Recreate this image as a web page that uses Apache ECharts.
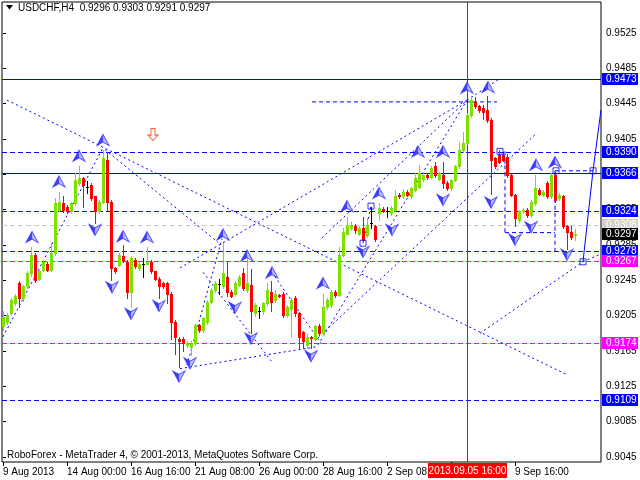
<!DOCTYPE html>
<html><head><meta charset="utf-8">
<script src="https://cdn.jsdelivr.net/npm/echarts@6/dist/echarts.min.js"></script>
<style>html,body{margin:0;padding:0;background:#fff}#c{width:640px;height:480px}</style>
</head><body><div id="c"></div>
<script>
const symbolName = 'USDCHF,H4';
const opens  = [0.9193,0.9198,0.9208,0.9219,0.9242,0.9225,0.9238,0.9253,0.9274,0.9247,0.9257,0.9264,0.9257,0.9276,0.9325,0.9332,0.9328,0.9323,0.9332,0.9355,0.9361,0.9351,0.9353,0.9340,0.9323,0.9334,0.9381,0.9334,0.9259,0.9262,0.9272,0.9266,0.9232,0.9268,0.9259,0.9264,0.9264,0.9266,0.9255,0.9247,0.9242,0.9242,0.9230,0.9198,0.9179,0.9179,0.9172,0.9170,0.9174,0.9194,0.9189,0.9198,0.9221,0.9234,0.9241,0.9238,0.9249,0.9232,0.9230,0.9240,0.9253,0.9234,0.9240,0.9208,0.9210,0.9210,0.9219,0.9232,0.9223,0.9228,0.9230,0.9206,0.9213,0.9225,0.9208,0.9186,0.9172,0.9181,0.9179,0.9193,0.9185,0.9215,0.9217,0.9232,0.9228,0.9274,0.9298,0.9304,0.9306,0.9298,0.9304,0.9296,0.9310,0.9306,0.9321,0.9326,0.9323,0.9321,0.9325,0.9342,0.9340,0.9345,0.9340,0.9347,0.9351,0.9360,0.9364,0.9362,0.9374,0.9360,0.9364,0.9355,0.9349,0.9359,0.9374,0.9393,0.9400,0.9432,0.9447,0.9442,0.9440,0.9438,0.9427,0.9383,0.9387,0.9387,0.9385,0.9364,0.9342,0.9313,0.9323,0.9325,0.9319,0.9332,0.9347,0.9342,0.9355,0.9340,0.9364,0.9338,0.9340,0.9306,0.9300,0.9296];
const highs  = [0.9210,0.9208,0.9225,0.9230,0.9244,0.9240,0.9255,0.9283,0.9276,0.9257,0.9268,0.9266,0.9287,0.9338,0.9345,0.9340,0.9330,0.9334,0.9366,0.9374,0.9362,0.9357,0.9355,0.9341,0.9336,0.9393,0.9390,0.9336,0.9260,0.9276,0.9285,0.9268,0.9272,0.9270,0.9266,0.9270,0.9283,0.9268,0.9256,0.9249,0.9243,0.9243,0.9232,0.9200,0.9181,0.9181,0.9176,0.9176,0.9196,0.9196,0.9204,0.9223,0.9236,0.9244,0.9247,0.9287,0.9266,0.9234,0.9244,0.9251,0.9259,0.9272,0.9258,0.9219,0.9215,0.9221,0.9242,0.9244,0.9234,0.9230,0.9232,0.9217,0.9225,0.9227,0.9209,0.9188,0.9184,0.9182,0.9194,0.9196,0.9230,0.9225,0.9234,0.9234,0.9283,0.9304,0.9317,0.9311,0.9309,0.9306,0.9317,0.9315,0.9328,0.9308,0.9332,0.9328,0.9328,0.9329,0.9347,0.9344,0.9348,0.9347,0.9351,0.9366,0.9376,0.9366,0.9366,0.9374,0.9379,0.9368,0.9379,0.9357,0.9360,0.9376,0.9402,0.9413,0.9434,0.9454,0.9453,0.9443,0.9444,0.9454,0.9429,0.9385,0.9393,0.9390,0.9388,0.9366,0.9343,0.9325,0.9327,0.9327,0.9336,0.9364,0.9349,0.9347,0.9357,0.9366,0.9368,0.9344,0.9342,0.9308,0.9306,0.9303];
const lows   = [0.9189,0.9196,0.9206,0.9217,0.9215,0.9222,0.9236,0.9250,0.9243,0.9245,0.9255,0.9255,0.9255,0.9274,0.9323,0.9322,0.9321,0.9321,0.9330,0.9353,0.9328,0.9344,0.9336,0.9310,0.9321,0.9332,0.9325,0.9245,0.9253,0.9261,0.9266,0.9225,0.9215,0.9259,0.9257,0.9249,0.9263,0.9253,0.9245,0.9225,0.9236,0.9219,0.9178,0.9162,0.9147,0.9165,0.9170,0.9161,0.9172,0.9187,0.9187,0.9196,0.9219,0.9232,0.9230,0.9236,0.9227,0.9226,0.9228,0.9238,0.9234,0.9232,0.9185,0.9205,0.9202,0.9207,0.9217,0.9210,0.9221,0.9226,0.9204,0.9204,0.9181,0.9205,0.9168,0.9168,0.9168,0.9168,0.9177,0.9183,0.9183,0.9213,0.9215,0.9226,0.9227,0.9272,0.9297,0.9302,0.9299,0.9296,0.9289,0.9294,0.9304,0.9290,0.9313,0.9322,0.9317,0.9319,0.9323,0.9338,0.9338,0.9340,0.9338,0.9346,0.9349,0.9358,0.9360,0.9361,0.9362,0.9359,0.9349,0.9347,0.9347,0.9357,0.9372,0.9390,0.9399,0.9430,0.9440,0.9436,0.9428,0.9424,0.9343,0.9372,0.9378,0.9380,0.9362,0.9340,0.9306,0.9311,0.9321,0.9317,0.9317,0.9330,0.9342,0.9340,0.9338,0.9338,0.9334,0.9336,0.9304,0.9281,0.9292,0.9291];
const closes = [0.9204,0.9206,0.9223,0.9227,0.9225,0.9238,0.9253,0.9274,0.9245,0.9255,0.9266,0.9257,0.9276,0.9332,0.9334,0.9325,0.9323,0.9332,0.9359,0.9361,0.9353,0.9351,0.9338,0.9323,0.9334,0.9383,0.9334,0.9259,0.9255,0.9274,0.9268,0.9232,0.9270,0.9261,0.9264,0.9264,0.9266,0.9255,0.9247,0.9238,0.9238,0.9230,0.9198,0.9181,0.9176,0.9174,0.9174,0.9174,0.9194,0.9189,0.9202,0.9221,0.9234,0.9242,0.9241,0.9253,0.9232,0.9227,0.9242,0.9249,0.9236,0.9242,0.9210,0.9217,0.9210,0.9219,0.9234,0.9221,0.9230,0.9227,0.9206,0.9215,0.9223,0.9208,0.9181,0.9176,0.9181,0.9180,0.9193,0.9185,0.9215,0.9223,0.9232,0.9228,0.9274,0.9300,0.9308,0.9308,0.9302,0.9304,0.9291,0.9308,0.9310,0.9292,0.9327,0.9324,0.9323,0.9327,0.9340,0.9340,0.9345,0.9342,0.9349,0.9361,0.9366,0.9364,0.9362,0.9372,0.9364,0.9366,0.9355,0.9349,0.9359,0.9374,0.9393,0.9400,0.9432,0.9449,0.9442,0.9438,0.9436,0.9427,0.9381,0.9374,0.9379,0.9381,0.9364,0.9342,0.9315,0.9323,0.9325,0.9319,0.9334,0.9349,0.9343,0.9345,0.9340,0.9364,0.9336,0.9342,0.9306,0.9300,0.9294,0.9297];

const timeTickIndex  = [0,16,32,48,64,80,96,112,128];
const timeTickLabels = ['9 Aug 2013','14 Aug 00:00','16 Aug 16:00','21 Aug 08:00','26 Aug 00:00','28 Aug 16:00','2 Sep 08:00','5 Sep 00:00','9 Sep 16:00'];
const priceTicks = [0.9045,0.9085,0.9125,0.9165,0.9205,0.9245,0.9285,0.9325,0.9365,0.9405,0.9445,0.9485,0.9525];

const blueSolidLevels  = [0.9473, 0.9366];
const blueDashedLevels = [0.9390, 0.9324, 0.9278, 0.9109];
const magentaLevels    = [0.9267, 0.9174];
const grayLevels       = [0.9308];
const markedBarIndex   = 116;
const markedBarLabel   = '2013.09.05 16:00';

// trend lines: [bar1, price1, bar2, price2]
const dottedLines = [
  [1,0.9449,141,0.9138],
  [0,0.9181,25,0.9395],
  [25.5,0.9393,53.75,0.9288],
  [44.25,0.9259,116,0.9449],
  [44.25,0.9145,78.75,0.9170],
  [46,0.9149,54.75,0.9292],
  [50,0.9254,67.5,0.9151],
  [67.25,0.9254,79.75,0.9172],
  [78.75,0.9172,116,0.9449],
  [79.75,0.9293,116,0.9449],
  [78.75,0.9180,133.5,0.9412],
  [119.25,0.9185,145,0.9266],
  [145,0.9266,149.5,0.9275],
  [116,0.9449,123.75,0.9472],
  [90,0.9287,92,0.9329]
];
const dashedLines = [
  [125.5,0.9391,125.5,0.9299],
  [125.5,0.9299,138,0.9299],
  [138,0.9369,138,0.9276],
  [138,0.9369,147.5,0.9369],
  [77.25,0.9447,123.5,0.9447]
];
const forecastPath = [[145,0.9266],[147.5,0.9369],[149.5,0.9438]];

const upArrows = [[7.25,0.9294],[14,0.9357],[19,0.9386],[25,0.9404],[30,0.9295],[36,0.9294],[55,0.9297],[61,0.9273],[67.25,0.9254],[80,0.9242],[86,0.9329],[94,0.9344],[103.75,0.9391],[110,0.9391],[116,0.9463],[121.25,0.9464],[133.25,0.9376],[138,0.9379]];
const downArrows = [[-0.5,0.9180],[23,0.9302],[27.25,0.9237],[32,0.9207],[39,0.9216],[44,0.9136],[46.75,0.9151],[58,0.9214],[62,0.9179],[77,0.9159],[90,0.9277],[97.25,0.9302],[110,0.9336],[122,0.9333],[128,0.9291],[132,0.9305],[141,0.9274]];
const squares = [[90,0.9287],[92,0.9329],[124.25,0.9391],[138.25,0.9369],[145,0.9266],[147.5,0.9369]];
const signalArrow = [[37.5,0.9410]];

const FONT = "'Liberation Sans',Arial,sans-serif";
const FS = 10;
const candles = opens.map((o,i)=>[i,o,highs[i],lows[i],closes[i]]);
const last = candles.length-1;

function levelRender(lineColor, dash, boxColor, showLine){
  return function(params, api){
    const cs = params.coordSys;
    const p = api.value(1);
    const yi = Math.round(api.coord([0,p])[1]);
    const right = cs.x + cs.width;
    const kids = [];
    if(showLine){
      if(dash){
        kids.push({type:'line',shape:{x1:cs.x,y1:yi+0.5,x2:right,y2:yi+0.5},style:{stroke:lineColor,lineWidth:1,lineDash:dash}});
      } else {
        kids.push({type:'rect',shape:{x:cs.x,y:yi,width:cs.width,height:1},style:{fill:lineColor}});
      }
    }
    kids.push({type:'rect',shape:{x:right+1,y:yi-6,width:36,height:12},style:{fill:boxColor}});
    kids.push({type:'text',x:right+5,y:yi+0.5,style:{text:p.toFixed(4),fill:'#fff',font:FS+'px '+FONT,verticalAlign:'middle',align:'left'}});
    return {type:'group',children:kids};
  };
}
function segRender(dash){
  return function(params, api){
    const a = api.coord([api.value(0),api.value(1)]);
    const b = api.coord([api.value(2),api.value(3)]);
    return {type:'line',shape:{x1:a[0],y1:a[1],x2:b[0],y2:b[1]},
      style:{stroke:'#0000ff',lineWidth:1,lineDash:dash,fill:null}};
  };
}
const lv = arr => arr.map(p=>[0,p]);
const arrowFill = new echarts.graphic.LinearGradient(0,0,1,0,[
  {offset:0,color:'#0000d0'},{offset:0.5,color:'#1818ff'},{offset:0.5,color:'#9c9cff'},{offset:1,color:'#d8d8ff'}]);

const chart = echarts.init(document.getElementById('c'),null,{renderer:'canvas'});
chart.setOption({
  animation:false,
  backgroundColor:'#fff',
  grid:{left:2,right:39,top:2,bottom:18,show:true,borderColor:'#000',borderWidth:1,backgroundColor:'#fff'},
  xAxis:{type:'value',min:-0.25,max:149.5,
    axisLine:{show:false},
    axisTick:{show:true,customValues:timeTickIndex,length:4,lineStyle:{color:'#000'}},
    axisLabel:{show:true,customValues:timeTickIndex,align:'left',margin:5,color:'#000',fontFamily:FONT,fontSize:FS,
      formatter:v=>timeTickLabels[timeTickIndex.indexOf(Math.round(v))]||''},
    splitLine:{show:false}},
  yAxis:{type:'value',position:'right',min:0.90393,max:0.95601,scale:true,
    axisLine:{show:false},
    axisTick:{show:true,customValues:priceTicks,length:3,lineStyle:{color:'#000'}},
    axisLabel:{show:true,customValues:priceTicks,margin:5,color:'#000',fontFamily:FONT,fontSize:FS,
      formatter:v=>v.toFixed(4)},
    splitLine:{show:false}},
  graphic:[
    {type:'polygon',shape:{points:[[6,5],[13,5],[9.5,9.5]]},style:{fill:'#000'}},
    {type:'text',left:18,top:3,style:{text:symbolName+'  '+[opens[last],highs[last],lows[last],closes[last]].map(v=>v.toFixed(4)).join(' '),
      font:FS+"px "+FONT,fill:'#000'}},
    {type:'text',left:7,top:450,style:{text:'RoboForex - MetaTrader 4, \u00a9 2001-2013, MetaQuotes Software Corp.',font:FS+"px "+FONT,fill:'#000'}}
  ],
  series:[
    {type:'custom',data:lv(grayLevels),clip:false,encode:{x:0,y:1},z:2,silent:true,renderItem:levelRender('#c8c8c8',[5,3],'#d0d0d0',true)},
    {type:'custom',data:lv(blueSolidLevels),clip:false,encode:{x:0,y:1},z:2,silent:true,renderItem:levelRender('#0000ff',null,'#0000ff',true)},
    {type:'custom',data:lv(blueDashedLevels),clip:false,encode:{x:0,y:1},z:2,silent:true,renderItem:levelRender('#0000ff',[5,3],'#0000ff',true)},
    {type:'custom',data:lv(magentaLevels),clip:false,encode:{x:0,y:1},z:2,silent:true,renderItem:levelRender('#ff00ff',[5,3],'#ff00ff',true)},
    {type:'custom',data:[[0,closes[last]]],clip:false,encode:{x:0,y:1},z:2,silent:true,renderItem:levelRender('#000',null,'#000',false)},
    {type:'custom',data:[[markedBarIndex,0.93]],clip:false,encode:{x:0,y:1},z:2,silent:true,
      renderItem:function(params,api){
        const cs=params.coordSys; const x=Math.round(api.coord([api.value(0),0.93])[0]);
        const bottom=cs.y+cs.height;
        return {type:'group',children:[
          {type:'rect',shape:{x:x,y:cs.y,width:1,height:cs.height},style:{fill:'#ff0000'}},
          {type:'rect',shape:{x:x-39,y:bottom+1,width:79,height:15},style:{fill:'#ff0000'}},
          {type:'text',x:x+0.5,y:bottom+9,style:{text:markedBarLabel,fill:'#fff',font:FS+'px '+FONT,align:'center',verticalAlign:'middle'}}
        ]};
      }},
    {type:'custom',data:dottedLines,clip:true,renderItem:segRender([2,3]),encode:{x:[0,2],y:[1,3]},z:3,silent:true},
    {type:'custom',data:dashedLines,clip:true,renderItem:segRender([4,3]),encode:{x:[0,2],y:[1,3]},z:3,silent:true},
    {type:'line',data:forecastPath,showSymbol:false,lineStyle:{color:'#0000ff',width:1},z:3,silent:true},
    {type:'custom',data:candles,clip:true,encode:{x:0,y:[1,2,3,4]},z:4,silent:true,
      renderItem:function(params,api){
        const i=api.value(0),o=api.value(1),h=api.value(2),l=api.value(3),c=api.value(4);
        const x=Math.round(api.coord([i,o])[0]);
        const yo=Math.round(api.coord([i,o])[1]),yc=Math.round(api.coord([i,c])[1]);
        const yh=Math.round(api.coord([i,h])[1]),yl=Math.round(api.coord([i,l])[1]);
        const col = c>o?'#7fe000':(c<o?'#ff0000':'#000000');
        const kids=[{type:'rect',shape:{x:x,y:yh,width:1,height:yl-yh+1},style:{fill:col}}];
        if(c===o){
          kids.push({type:'rect',shape:{x:x-1,y:yo,width:3,height:1},style:{fill:col}});
        } else {
          const t=Math.min(yo,yc),b=Math.max(yo,yc);
          kids.push({type:'rect',shape:{x:x-1,y:t,width:3,height:Math.max(1,b-t+1)},style:{fill:col}});
        }
        return {type:'group',children:kids};
      }},
    {type:'scatter',data:upArrows,symbol:'path://M7,0 L14,13 L7,9 L0,13 Z',symbolSize:[12,11],clip:true,
      itemStyle:{color:arrowFill,borderColor:'#3030ff',borderWidth:1},z:5,silent:true},
    {type:'scatter',data:downArrows,symbol:'path://M0,0 L7,4 L14,0 L7,13 Z',symbolSize:[12,11],clip:true,
      itemStyle:{color:arrowFill,borderColor:'#3030ff',borderWidth:1},z:5,silent:true},
    {type:'scatter',data:squares,symbol:'rect',symbolSize:6,clip:true,
      itemStyle:{color:'rgba(255,255,255,0)',borderColor:'#0000ff',borderWidth:1},z:5,silent:true},
    {type:'scatter',data:signalArrow,symbol:'path://M3,0 L7,0 L7,6 L10,6 L5,11 L0,6 L3,6 Z',symbolSize:[10,12],
      itemStyle:{color:'#fff',borderColor:'#ff3000',borderWidth:1},z:5,silent:true}
  ]
});
</script></body></html>
